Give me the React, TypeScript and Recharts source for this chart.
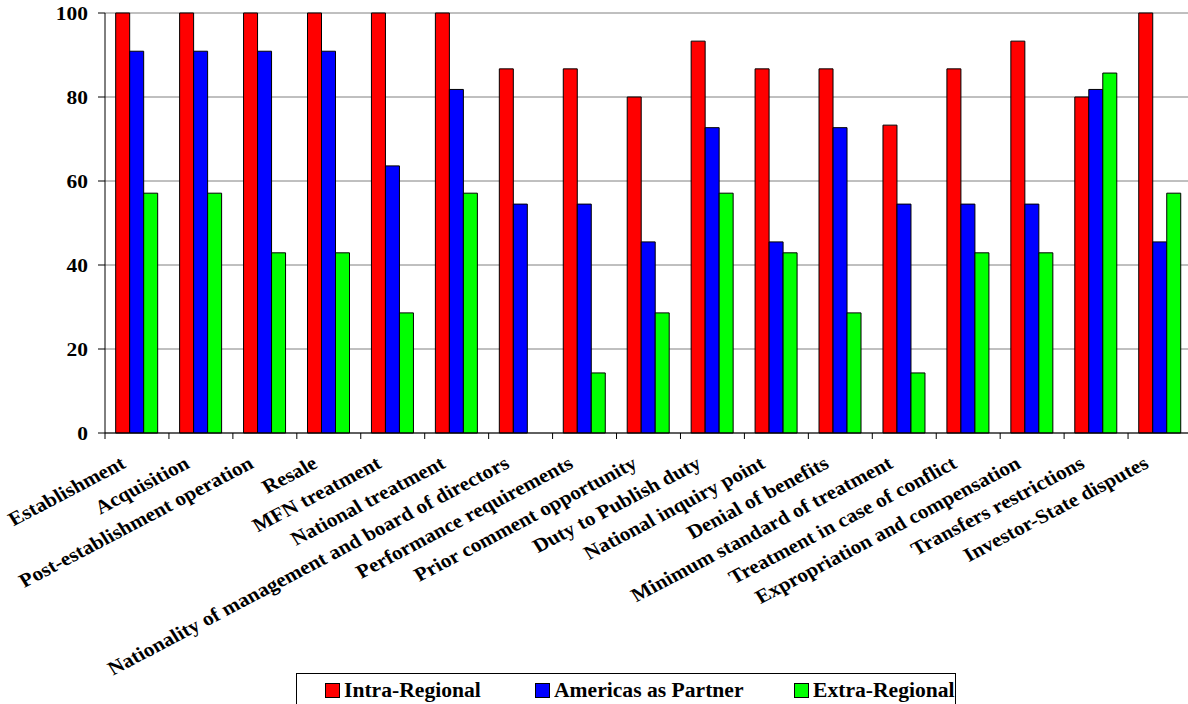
import React from "react"
import { BarChart, Bar, XAxis, YAxis, CartesianGrid } from "recharts"

const categories = [
  "Establishment",
  "Acquisition",
  "Post-establishment operation",
  "Resale",
  "MFN treatment",
  "National treatment",
  "Nationality of management and board of directors",
  "Performance requirements",
  "Prior comment opportunity",
  "Duty to Publish duty",
  "National inquiry point",
  "Denial of benefits",
  "Minimum standard of treatment",
  "Treatment in case of conflict",
  "Expropriation and compensation",
  "Transfers restrictions",
  "Investor-State disputes",
]

const intraRegional = [100, 100, 100, 100, 100, 100, 86.7, 86.7, 80, 93.3, 86.7, 86.7, 73.3, 86.7, 93.3, 80, 100]
const americasAsPartner = [90.9, 90.9, 90.9, 90.9, 63.6, 81.8, 54.5, 54.5, 45.5, 72.7, 45.5, 72.7, 54.5, 54.5, 54.5, 81.8, 45.5]
const extraRegional = [57.1, 57.1, 42.9, 42.9, 28.6, 57.1, 0, 14.3, 28.6, 57.1, 42.9, 28.6, 14.3, 42.9, 42.9, 85.7, 57.1]

const yTicks = [0, 20, 40, 60, 80, 100]

const series = [
  { key: "intra", name: "Intra-Regional", color: "#ff0000" },
  { key: "americas", name: "Americas as Partner", color: "#0000ff" },
  { key: "extra", name: "Extra-Regional", color: "#00ff00" },
]

const data = categories.map((label, i) => ({
  label,
  intra: intraRegional[i],
  americas: americasAsPartner[i],
  extra: extraRegional[i],
}))

const FONT = "'Liberation Serif', 'Times New Roman', serif"
const CHART_W = 1200
const CHART_H = 704
const MARGIN = { top: 13, right: 8, left: 0, bottom: 0 }
const Y_AXIS_W = 105
const BAND = (CHART_W - MARGIN.left - MARGIN.right - Y_AXIS_W) / categories.length

function XTick({ x, y, payload, index }: any) {
  const left = x - BAND / 2
  return (
    <g>
      <line x1={left} x2={left} y1={y} y2={y + 6} stroke="#000" />
      {index === categories.length - 1 && (
        <line x1={x + BAND / 2} x2={x + BAND / 2} y1={y} y2={y + 6} stroke="#000" />
      )}
      <g transform={`translate(${x - 10},${y + 34}) scale(1.1,1)`}>
        <text
          textAnchor="end"
          transform="rotate(-30)"
          fontFamily={FONT}
          fontWeight={700}
          fontSize={19.5}
          fill="#000"
        >
          {payload.value}
        </text>
      </g>
    </g>
  )
}

function YTick({ x, y, payload }: any) {
  return (
    <g transform={`translate(${x},${y}) scale(1.1,1)`}>
      <text textAnchor="end" dy="0.35em" fontFamily={FONT} fontWeight={700} fontSize={19.5} fill="#000">
        {payload.value}
      </text>
    </g>
  )
}

// legend sits below the axis labels, partly cut off by the bottom edge
const legendItems = [
  { ...series[0], swatchX: 28, textX: 47 },
  { ...series[1], swatchX: 238, textX: 257 },
  { ...series[2], swatchX: 497, textX: 516 },
]

function ChartLegend() {
  return (
    <div
      style={{
        position: "absolute",
        left: 296,
        top: 673,
        width: 660,
        height: 44,
        border: "1px solid #000",
        boxSizing: "border-box",
        background: "#fff",
        fontFamily: FONT,
        fontWeight: 700,
        fontSize: 20,
        lineHeight: "20px",
      }}
    >
      {legendItems.map((item) => (
        <React.Fragment key={item.key}>
          <span
            style={{
              position: "absolute",
              left: item.swatchX,
              top: 9,
              width: 13,
              height: 13,
              background: item.color,
              border: "1px solid #000",
            }}
          />
          <span
            style={{
              position: "absolute",
              left: item.textX,
              top: 6,
              whiteSpace: "nowrap",
              transform: "scaleX(1.08)",
              transformOrigin: "left",
            }}
          >
            {item.name}
          </span>
        </React.Fragment>
      ))}
    </div>
  )
}

export default function App() {
  return (
    <div
      style={{
        position: "fixed",
        left: 0,
        top: 0,
        width: 1188,
        height: 704,
        overflow: "hidden",
        background: "#fff",
      }}
    >
      <BarChart
        width={CHART_W}
        height={CHART_H}
        data={data}
        margin={MARGIN}
        barCategoryGap="16.7%"
        barGap={0}
      >
        <CartesianGrid vertical={false} stroke="#808080" />
        <XAxis
          dataKey="label"
          interval={0}
          height={271}
          tickSize={0}
          tickMargin={0}
          tickLine={false}
          axisLine={{ stroke: "#000" }}
          tick={<XTick />}
        />
        <YAxis
          domain={[0, 100]}
          ticks={yTicks}
          width={Y_AXIS_W}
          tickSize={7}
          tickMargin={10}
          tickLine={{ stroke: "#000" }}
          axisLine={{ stroke: "#000" }}
          tick={<YTick />}
        />
        {series.map((s) => (
          <Bar
            key={s.key}
            dataKey={s.key}
            name={s.name}
            fill={s.color}
            stroke="#000"
            strokeWidth={1}
            isAnimationActive={false}
          />
        ))}
      </BarChart>
      <ChartLegend />
    </div>
  )
}
